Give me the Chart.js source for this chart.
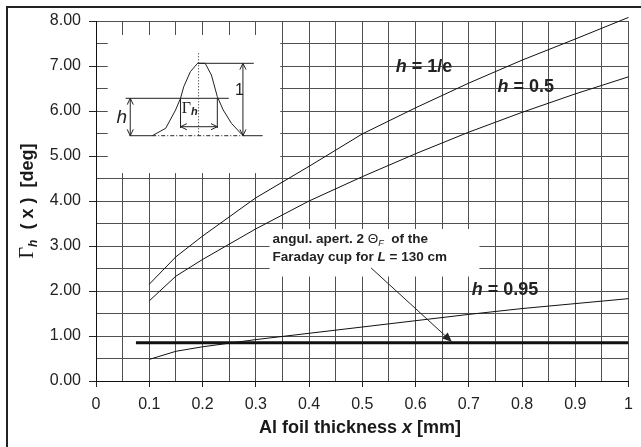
<!DOCTYPE html>
<html>
<head>
<meta charset="utf-8">
<script src="https://cdn.jsdelivr.net/npm/chart.js@4.4.1/dist/chart.umd.min.js"></script>
<style>
  html, body { margin: 0; padding: 0; background: #fff; }
  #wrap { position: relative; width: 641px; height: 447px; overflow: hidden; }
  #frame { position: absolute; left: 6px; top: 6px; width: 700px; height: 500px;
           border-left: 2px solid #222; border-top: 2px solid #222; }
  canvas { position: absolute; left: 0; top: 0; }
</style>
</head>
<body>
<div id="wrap"><div id="frame"></div><canvas id="c" width="641" height="447"></canvas></div>
<script>
// Al foil thickness x [mm]
const thickness = [0.1, 0.15, 0.2, 0.3, 0.4, 0.5, 0.6, 0.7, 0.8, 0.9, 1.0];
// Angular width Γh(x) [deg] at three relative heights h
const gammaInvE = [2.15, 2.76, 3.22, 4.07, 4.77, 5.49, 6.07, 6.62, 7.13, 7.60, 8.08];
const gammaHalf = [1.78, 2.33, 2.70, 3.38, 4.00, 4.54, 5.05, 5.53, 5.97, 6.38, 6.76];
const gamma095  = [0.48, 0.66, 0.76, 0.92, 1.06, 1.20, 1.34, 1.48, 1.61, 1.72, 1.83];
// Angular aperture of the Faraday cup (L = 130 cm)
const faradayX = [0.075, 1.0];
const faradayY = [0.85, 0.85];

const xTickLabels = ['0', '0.1', '0.2', '0.3', '0.4', '0.5', '0.6', '0.7', '0.8', '0.9', '1'];
const yTickLabels = ['0.00', '1.00', '2.00', '3.00', '4.00', '5.00', '6.00', '7.00', '8.00'];

// Inset sketch of a beam profile, in axis units
const insetBoxX = [0.022, 0.346];
const insetBoxY = [4.62, 7.69];
const profileX = [0.1056, 0.1309, 0.1494, 0.1587, 0.1648, 0.1772, 0.1907, 0.2050, 0.2167, 0.2278, 0.2389, 0.2543, 0.2728, 0.2790];
const profileY = [5.451, 5.616, 6.022, 6.282, 6.540, 6.873, 7.060, 7.060, 6.800, 6.318, 6.022, 5.727, 5.490, 5.451];
const baseY = 5.451, peakY = 7.06, levelY = 6.282, widthArrowY = 5.651;
const baseLeftX = 0.063, baseRightX = 0.313, centerX = 0.1926, centerTopY = 7.282;
const peakLineX = [0.1907, 0.2963], unitArrowX = 0.2759;
const levelLineX = [0.0556, 0.2494], levelArrowX = 0.0643;
const widthX = [0.1587, 0.2278], widthLineBottomY = 5.622;

// Caption box and pointer
const noteBoxX = [0.326, 0.720];
const noteBoxY = [2.322, 3.378];
const pointerFrom = [0.5167, 2.511];
const pointerTo = [0.668, 0.873];

const SANS = "'Liberation Sans', Arial, sans-serif";
const SERIF = "'Liberation Serif', 'Times New Roman', serif";
Chart.defaults.font.family = SANS;

function series(ys, width) {
  return {
    data: thickness.map((x, i) => ({ x, y: ys[i] })),
    borderColor: '#111', borderWidth: width, pointRadius: 0, tension: 0, fill: false, clip: 6
  };
}

function drawRuns(ctx, parts, x, y, align) {
  let w = 0;
  parts.forEach(p => { ctx.font = p[1]; w += ctx.measureText(p[0]).width; });
  let cx = align === 'center' ? x - w / 2 : x;
  parts.forEach(p => {
    ctx.font = p[1];
    ctx.fillText(p[0], cx, y + (p[2] || 0));
    cx += ctx.measureText(p[0]).width;
  });
}

function openHead(ctx, x0, y0, x1, y1) {
  const a = Math.atan2(y1 - y0, x1 - x0), L = 7, s = 0.45;
  ctx.beginPath();
  ctx.moveTo(x1 - L * Math.cos(a - s), y1 - L * Math.sin(a - s));
  ctx.lineTo(x1, y1);
  ctx.lineTo(x1 - L * Math.cos(a + s), y1 - L * Math.sin(a + s));
  ctx.stroke();
}

function line(ctx, x0, y0, x1, y1) {
  ctx.beginPath(); ctx.moveTo(x0, y0); ctx.lineTo(x1, y1); ctx.stroke();
}

const overlay = {
  id: 'overlay',
  beforeDatasetsDraw(chart) {
    const { ctx } = chart, X = chart.scales.x, Y = chart.scales.y;
    ctx.save();
    ctx.fillStyle = '#fff';
    [[insetBoxX, insetBoxY], [noteBoxX, noteBoxY]].forEach(([bx, by]) => {
      const x0 = X.getPixelForValue(bx[0]), x1 = X.getPixelForValue(bx[1]);
      const y0 = Y.getPixelForValue(by[1]), y1 = Y.getPixelForValue(by[0]);
      ctx.fillRect(x0, y0, x1 - x0, y1 - y0);
    });
    ctx.restore();
  },
  afterDatasetsDraw(chart) {
    const { ctx } = chart, X = chart.scales.x, Y = chart.scales.y;
    const px = v => X.getPixelForValue(v), py = v => Y.getPixelForValue(v);
    ctx.save();
    ctx.strokeStyle = '#222';
    ctx.fillStyle = '#222';
    ctx.lineWidth = 1;
    ctx.lineJoin = 'round';

    // inset: profile
    ctx.beginPath();
    profileX.forEach((x, i) => { i ? ctx.lineTo(px(x), py(profileY[i])) : ctx.moveTo(px(x), py(profileY[i])); });
    ctx.stroke();
    // baseline
    line(ctx, px(baseLeftX), py(baseY), px(profileX[0]), py(baseY));
    line(ctx, px(profileX[profileX.length - 1]), py(baseY), px(baseRightX), py(baseY));
    ctx.setLineDash([4, 2, 1, 2]);
    line(ctx, px(profileX[0]), py(baseY), px(profileX[profileX.length - 1]), py(baseY));
    ctx.setLineDash([1, 2]);
    line(ctx, px(centerX), py(centerTopY), px(centerX), py(baseY));
    ctx.setLineDash([]);
    // peak level and unit-height arrow
    line(ctx, px(peakLineX[0]), py(peakY), px(peakLineX[1]), py(peakY));
    line(ctx, px(unitArrowX), py(peakY), px(unitArrowX), py(baseY));
    openHead(ctx, px(unitArrowX), py(baseY), px(unitArrowX), py(peakY));
    openHead(ctx, px(unitArrowX), py(peakY), px(unitArrowX), py(baseY));
    // level h and its arrow
    line(ctx, px(levelLineX[0]), py(levelY), px(levelLineX[1]), py(levelY));
    line(ctx, px(levelArrowX), py(levelY), px(levelArrowX), py(baseY));
    openHead(ctx, px(levelArrowX), py(baseY), px(levelArrowX), py(levelY));
    openHead(ctx, px(levelArrowX), py(levelY), px(levelArrowX), py(baseY));
    // width at level h
    line(ctx, px(widthX[0]), py(levelY), px(widthX[0]), py(widthLineBottomY));
    line(ctx, px(widthX[1]), py(levelY), px(widthX[1]), py(widthLineBottomY));
    line(ctx, px(widthX[0]), py(widthArrowY), px(widthX[1]), py(widthArrowY));
    openHead(ctx, px(widthX[1]), py(widthArrowY), px(widthX[0]), py(widthArrowY));
    openHead(ctx, px(widthX[0]), py(widthArrowY), px(widthX[1]), py(widthArrowY));

    ctx.textBaseline = 'alphabetic';
    ctx.textAlign = 'left';
    drawRuns(ctx, [['1', '16px ' + SANS]], px(0.2611), py(6.356));
    drawRuns(ctx, [['h', 'italic 19px ' + SANS]], px(0.0383), py(5.727));
    drawRuns(ctx, [['Γ', '16px ' + SERIF], ['h', 'bold italic 11px ' + SANS, 2]], px(0.1611), py(5.962));

    // curve labels
    const B = 'bold 18px ' + SANS, BI = 'bold italic 18px ' + SANS;
    drawRuns(ctx, [['h', BI], [' = 1/e', B]], px(0.563), py(6.867));
    drawRuns(ctx, [['h', BI], [' = 0.5', B]], px(0.7537), py(6.422));
    drawRuns(ctx, [['h', BI], [' = 0.95', B]], px(0.7056), py(1.911));

    // caption
    const C = 'bold 13.5px ' + SANS;
    drawRuns(ctx, [['angul. apert. 2 ', C], ['Θ', '13.5px ' + SANS], ['F', 'italic 9px ' + SANS, 3], ['  of the', C]], px(0.3315), py(3.067));
    drawRuns(ctx, [['Faraday cup for ', C], ['L', 'bold italic 13.5px ' + SANS], [' = 130 cm', C]], px(0.3315), py(2.667));

    // pointer
    const fx = px(pointerFrom[0]), fy = py(pointerFrom[1]), tx = px(pointerTo[0]), ty = py(pointerTo[1]);
    line(ctx, fx, fy, tx, ty);
    const a = Math.atan2(ty - fy, tx - fx), L = 10, s = 0.42;
    ctx.beginPath();
    ctx.moveTo(tx, ty);
    ctx.lineTo(tx - L * Math.cos(a - s), ty - L * Math.sin(a - s));
    ctx.lineTo(tx - L * Math.cos(a + s), ty - L * Math.sin(a + s));
    ctx.closePath();
    ctx.fill();

    // axis titles
    ctx.fillStyle = '#1a1a1a';
    drawRuns(ctx, [['Al foil thickness ', B], ['x', BI], [' [mm]', B]], 360, 433, 'center');
    ctx.translate(33, 201);
    ctx.rotate(-Math.PI / 2);
    drawRuns(ctx, [['Γ', '20px ' + SERIF], ['h', 'bold italic 12px ' + SANS, 4], ['  ( ', 'bold 18px ' + SANS], ['x', B], [' )  [deg]', B]], 0, 0, 'center');
    ctx.restore();
  }
};

const isMinor = (v, per) => Math.round(v * per * 2) % 2 !== 0;

new Chart(document.getElementById('c'), {
  type: 'line',
  data: {
    datasets: [
      series(gammaInvE, 1),
      series(gammaHalf, 1),
      series(gamma095, 1),
      { data: faradayX.map((x, i) => ({ x, y: faradayY[i] })), borderColor: '#111', borderWidth: 3,
        pointRadius: 0, fill: false, borderCapStyle: 'butt' }
    ]
  },
  options: {
    responsive: false,
    animation: false,
    devicePixelRatio: 1,
    layout: { padding: { left: 0, top: 21, right: 5, bottom: 0 } },
    plugins: { legend: { display: false }, tooltip: { enabled: false } },
    scales: {
      x: {
        type: 'linear', min: 0, max: 1,
        afterFit: s => { s.height = 66; },
        ticks: {
          stepSize: 0.05, autoSkip: false, maxRotation: 0, padding: 8,
          color: '#222', font: { size: 16 },
          callback: v => isMinor(v, 10) ? '' : xTickLabels[Math.round(v * 10)]
        },
        grid: {
          color: '#505050', lineWidth: 1, tickLength: 6,
          tickColor: c => (c.tick && isMinor(c.tick.value, 10)) ? 'rgba(0,0,0,0)' : '#222'
        },
        border: { color: '#111', width: 1 }
      },
      y: {
        type: 'linear', min: 0, max: 8,
        afterFit: s => { s.width = 96; },
        ticks: {
          stepSize: 0.5, autoSkip: false, padding: 8,
          color: '#222', font: { size: 16 },
          callback: v => isMinor(v, 1) ? '' : yTickLabels[Math.round(v)]
        },
        grid: {
          color: '#505050', lineWidth: 1, tickLength: 7,
          tickColor: c => (c.tick && isMinor(c.tick.value, 1)) ? 'rgba(0,0,0,0)' : '#222'
        },
        border: { color: '#111', width: 1 }
      }
    }
  },
  plugins: [overlay]
});
</script>
</body>
</html>
